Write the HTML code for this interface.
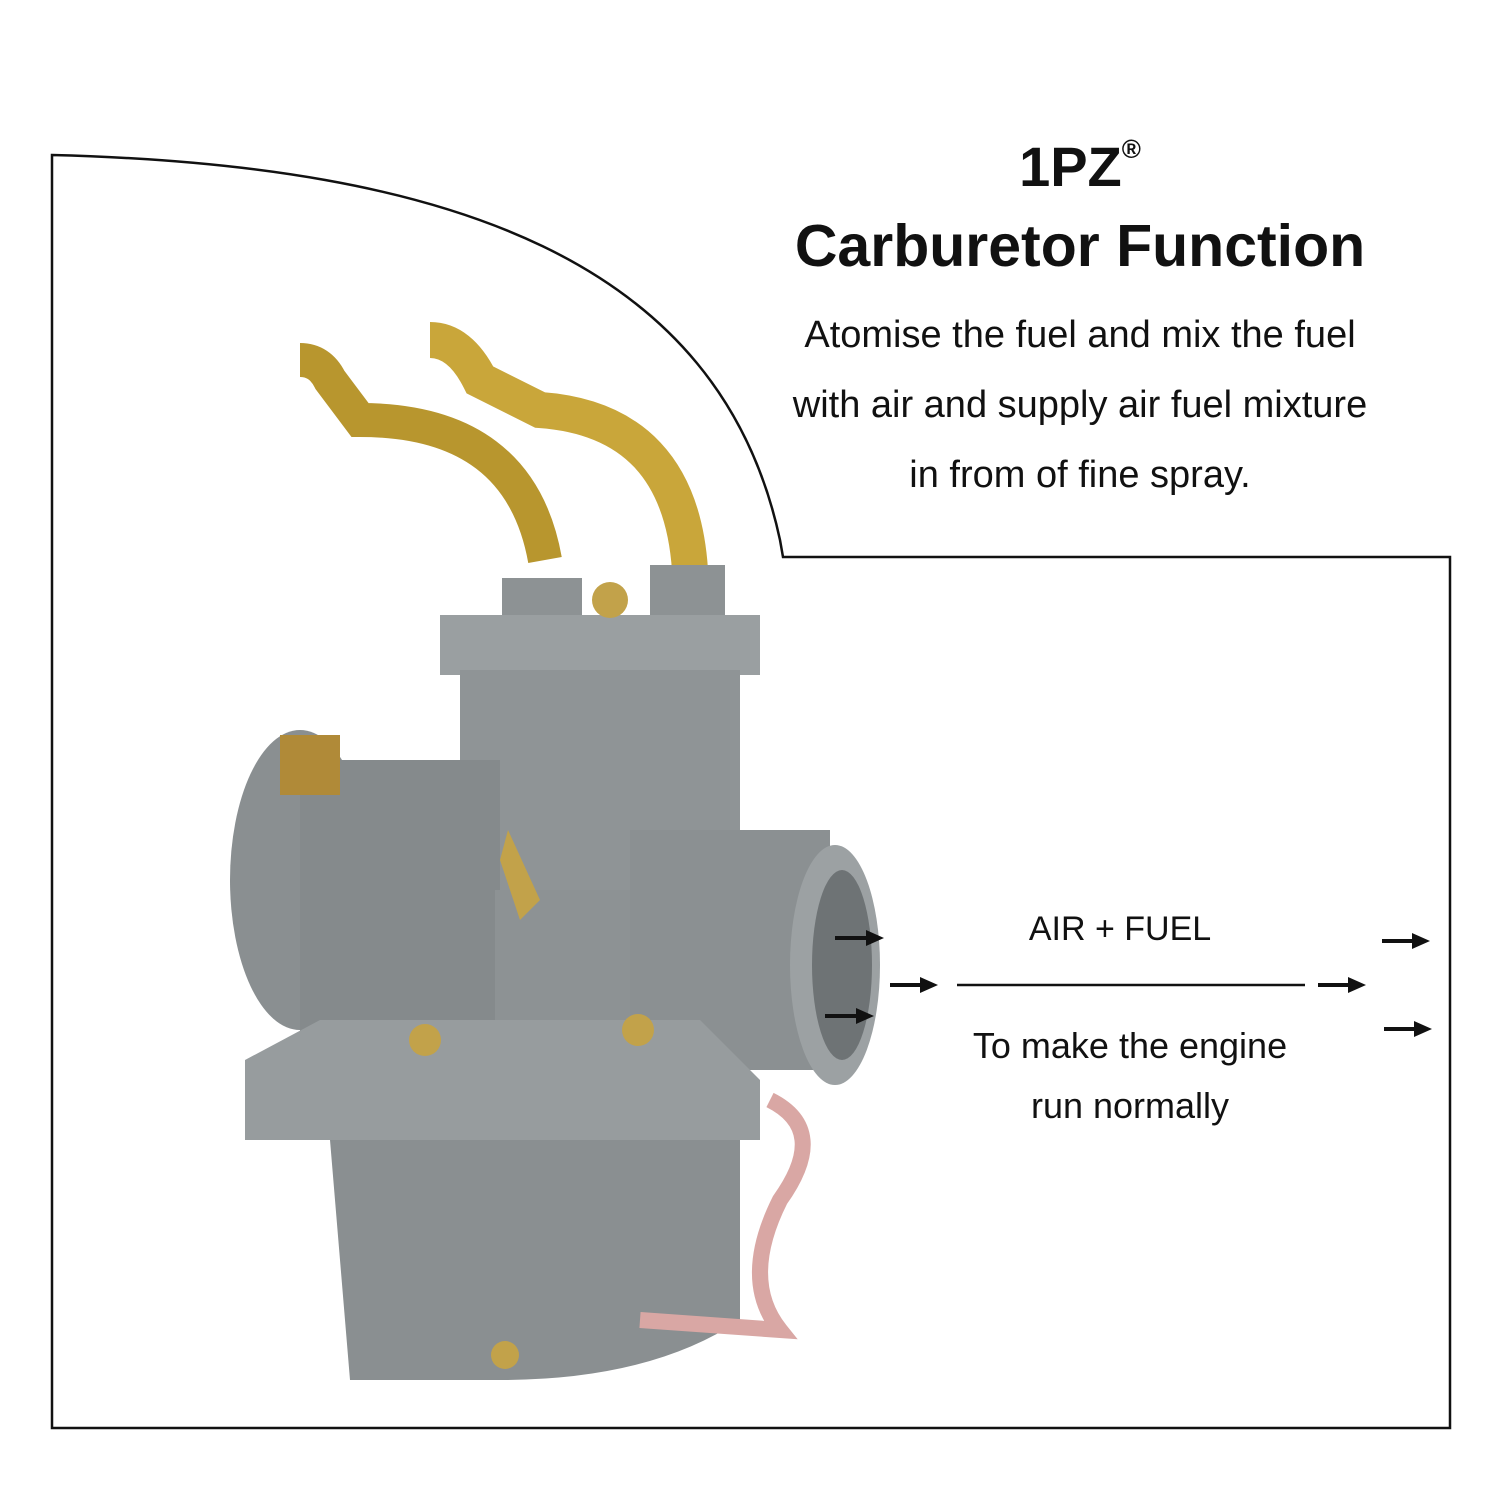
<!DOCTYPE html>
<html><head><meta charset="utf-8"><style>
body{margin:0;background:#fff;}
.w{position:relative;width:1500px;height:1500px;overflow:hidden;font-family:"Liberation Sans",sans-serif;color:#111;}
.t{position:absolute;left:730px;width:700px;text-align:center;white-space:nowrap;}
</style></head><body><div class="w">
<svg width="1500" height="1500" style="position:absolute;left:0;top:0">
<path d="M52,1428 L52,155 C450,165 720,260 780,540 L783,557 L1450,557 L1450,1428 Z" fill="none" stroke="#111" stroke-width="2.5"/>
<g>
<path d="M300,360 Q320,360 330,380 L360,420 Q520,420 545,560" fill="none" stroke="#b8962e" stroke-width="34"/>
<path d="M430,340 Q460,340 480,380 L540,410 Q680,420 690,570" fill="none" stroke="#c9a63a" stroke-width="36"/>
<rect x="502" y="578" width="80" height="60" fill="#8d9294"/>
<rect x="650" y="565" width="75" height="70" fill="#8d9294"/>
<rect x="440" y="615" width="320" height="60" fill="#9a9fa1"/>
<rect x="460" y="670" width="280" height="230" fill="#8f9496"/>
<ellipse cx="300" cy="880" rx="70" ry="150" fill="#8a8f91"/>
<rect x="300" y="760" width="200" height="290" fill="#858a8c"/>
<rect x="495" y="890" width="140" height="140" fill="#8d9294"/>
<rect x="630" y="830" width="200" height="240" fill="#8b9092"/>
<ellipse cx="835" cy="965" rx="45" ry="120" fill="#9ca1a3"/>
<ellipse cx="842" cy="965" rx="30" ry="95" fill="#6e7375"/>
<path d="M245,1060 L320,1020 L700,1020 L760,1080 L760,1140 L245,1140 Z" fill="#979c9e"/>
<path d="M330,1140 L740,1140 L740,1320 Q650,1380 500,1380 L350,1380 Z" fill="#8a8f91"/>
<rect x="280" y="735" width="60" height="60" fill="#b08a38"/>
<path d="M508,830 L540,900 L520,920 L500,860 Z" fill="#c2a24a"/>
<circle cx="610" cy="600" r="18" fill="#c2a24a"/>
<path d="M770,1100 Q830,1130 780,1200 Q740,1280 780,1330 L640,1320" fill="none" stroke="#d9a7a4" stroke-width="16"/>
<circle cx="505" cy="1355" r="14" fill="#c2a24a"/>
<circle cx="638" cy="1030" r="16" fill="#c2a24a"/>
<circle cx="425" cy="1040" r="16" fill="#c2a24a"/>
</g>
<line x1="957" y1="985" x2="1305" y2="985" stroke="#111" stroke-width="2.5"/>
<g fill="#111" stroke="#111" stroke-width="4">
<line x1="835" y1="938" x2="868" y2="938"/><polygon points="866,930 884,938 866,946" stroke="none"/>
<line x1="890" y1="985" x2="922" y2="985"/><polygon points="920,977 938,985 920,993" stroke="none"/>
<line x1="825" y1="1016" x2="858" y2="1016"/><polygon points="856,1008 874,1016 856,1024" stroke="none"/>
<line x1="1318" y1="985" x2="1350" y2="985"/><polygon points="1348,977 1366,985 1348,993" stroke="none"/>
<line x1="1382" y1="941" x2="1414" y2="941"/><polygon points="1412,933 1430,941 1412,949" stroke="none"/>
<line x1="1384" y1="1029" x2="1416" y2="1029"/><polygon points="1414,1021 1432,1029 1414,1037" stroke="none"/>
</g>
</svg>
<div class="t" style="top:134px;font-size:56px;font-weight:bold;">1PZ<sup style="font-size:26px;vertical-align:28px">®</sup></div>
<div class="t" style="top:212px;font-size:59px;font-weight:bold;">Carburetor Function</div>
<div class="t" style="top:300px;font-size:38px;line-height:70px;">Atomise the fuel and mix the fuel<br>with air and supply air fuel mixture<br>in from of fine spray.</div>
<div style="position:absolute;left:1000px;width:240px;text-align:center;top:910px;font-size:34px;">AIR + FUEL</div>
<div style="position:absolute;left:930px;width:400px;text-align:center;top:1016px;font-size:36px;line-height:60px;">To make the engine<br>run normally</div>
</div></body></html>
